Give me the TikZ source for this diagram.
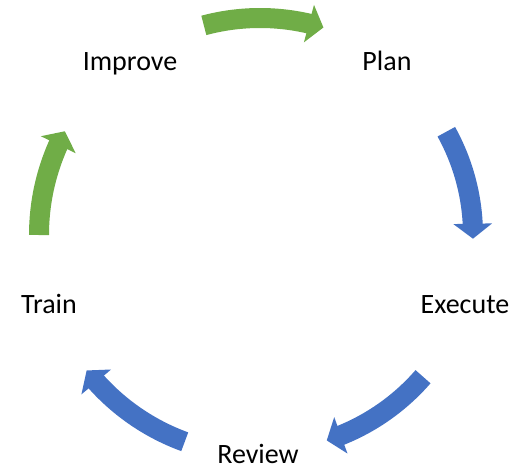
\documentclass[tikz,border=0pt]{standalone}
\usepackage{fontspec}
\setmainfont{Carlito}
\usetikzlibrary{arrows.meta,bending}
\definecolor{cyclegreen}{HTML}{70AD47}
\definecolor{cycleblue}{HTML}{4472C4}
\begin{document}
\begin{tikzpicture}[x=1pt,y=1pt,
		stage/.style={anchor=base,font=\fontsize{28}{32}\selectfont},
		cyc/.style={line width=20pt,-{Triangle[length=15pt,width=38pt]}},
		greencyc/.style={cyc,draw=cyclegreen,fill=cyclegreen},
		bluecyc/.style={cyc,draw=cycleblue,fill=cycleblue}]
	\useasboundingbox (-260,-232) rectangle (264,235);
	\node[stage] (plan) at (127,165) {Plan};
	\node[stage] (exec) at (205,-78) {Execute};
	\node[stage] (rev) at (-2,-228) {Review};
	\node[stage] (train) at (-211,-78) {Train};
	\node[stage] (impr) at (-130,165) {Improve};
	% arrow tails, going round clockwise
	\coordinate (a1) at (105:217pt);
	\coordinate (a2) at (29:213pt);
	\coordinate (a3) at (-41:216pt);
	\coordinate (a4) at (-110:220pt);
	\coordinate (a5) at (180:221pt);
	\draw[greencyc] (a1) arc[start angle=105,end angle=73,radius=217pt];
	\draw[bluecyc] (a2) arc[start angle=29,end angle=-1,radius=213pt];
	\draw[bluecyc] (a3) arc[start angle=-41,end angle=-72,radius=216pt];
	\draw[bluecyc] (a4) arc[start angle=-110,end angle=-142,radius=220pt];
	\draw[greencyc] (a5) arc[start angle=180,end angle=152,radius=221pt];
\end{tikzpicture}
\end{document}
